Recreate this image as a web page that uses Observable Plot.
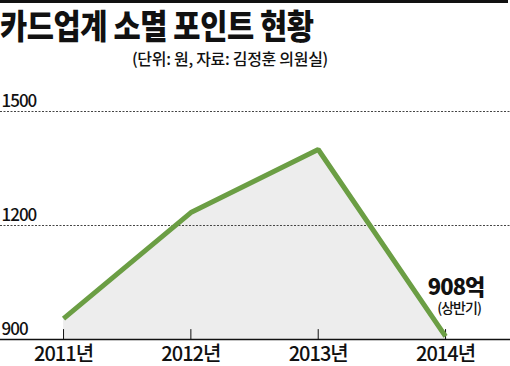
<!DOCTYPE html>
<html><head><meta charset="utf-8">
<script src="https://cdn.jsdelivr.net/npm/d3@7"></script>
<script src="https://cdn.jsdelivr.net/npm/@observablehq/plot@0.6"></script>
<style>
html,body{margin:0;padding:0;background:#fff;}
body{width:510px;height:366px;overflow:hidden;font-family:"Noto Sans CJK KR","Noto Sans",sans-serif;}
#head{position:relative;height:70px;}
#rule{position:absolute;left:0;top:0;width:508px;height:3px;background:#111;}
#title{position:absolute;left:0;top:8px;font-size:34px;font-weight:900;line-height:1;white-space:nowrap;transform:scaleX(0.87);transform-origin:0 0;color:#111;letter-spacing:-0.5px;}
#sub{position:absolute;right:182px;top:50px;font-size:16px;font-weight:500;line-height:1;white-space:nowrap;color:#111;letter-spacing:-0.3px;}
svg text{letter-spacing:-1px;}
</style>
</head><body>
<div id="head">
  <div id="rule"></div>
  <div id="title">카드업계 소멸 포인트 현황</div>
  <div id="sub">(단위: 원, 자료: 김정훈 의원실)</div>
</div>
<div id="chart"></div>
<script>
const years = [2011, 2012, 2013, 2014];
const points = [955, 1234, 1400, 908];
const yTicks = [1500, 1200, 900];
const gridTicks = [1500, 1200];
const baseline = 900;
const noteSub = "(상반기)";

const data = years.map((year, i) => ({year, value: points[i]}));
const last = data[data.length - 1];
const tickShape = {draw(ctx, l) { ctx.moveTo(0, 0); ctx.lineTo(0, -l); }};
const narrow = '"Liberation Sans Narrow", "Noto Sans CJK KR", sans-serif';

const chart = Plot.plot({
  width: 510, height: 296,
  marginLeft: 0, marginRight: 0, marginTop: 41, marginBottom: 27,
  x: {domain: [2010.505, 2014.51], axis: null},
  y: {domain: [900, 1500], axis: null},
  style: {fontFamily: '"Noto Sans CJK KR", "Noto Sans", sans-serif', background: "transparent", overflow: "visible", color: "#111"},
  marks: [
    Plot.areaY(data, {x: "year", y1: baseline, y2: "value", fill: "#ededed"}),
    Plot.ruleY(gridTicks, {stroke: "#444", strokeDasharray: "2,1.5", strokeWidth: 1}),
    Plot.ruleY([baseline], {stroke: "#111", strokeWidth: 1.5}),
    Plot.vector(years, {x: d => d, y: () => baseline, length: 10, anchor: "start", rotate: 0, shape: tickShape, stroke: "#111", strokeWidth: 1}),
    Plot.line(data, {x: "year", y: "value", stroke: "#6b9e44", strokeWidth: 5, strokeLinejoin: "miter", strokeLinecap: "butt"}),
    Plot.text(years, {x: d => d, y: () => baseline, text: d => `${d}년`, dy: 15, fontSize: 20, fontWeight: 500, fontFamily: narrow, fill: "#111"}),
    Plot.text(yTicks, {y: d => d, frameAnchor: "left", text: d => String(d), textAnchor: "start", dx: 1, dy: -10, fontSize: 17, fontWeight: 500, fontFamily: narrow, fill: "#111"}),
    Plot.text([last], {x: "year", y: "value", text: d => `${d.value}억`, dx: 10.5, dy: -49, fontSize: 22, fontWeight: 900, fill: "#111"}),
    Plot.text([last], {x: "year", y: "value", text: () => noteSub, dx: 13.5, dy: -28, fontSize: 14, fontWeight: 500, fill: "#111"})
  ]
});
document.getElementById("chart").appendChild(chart);
</script>
</body></html>
